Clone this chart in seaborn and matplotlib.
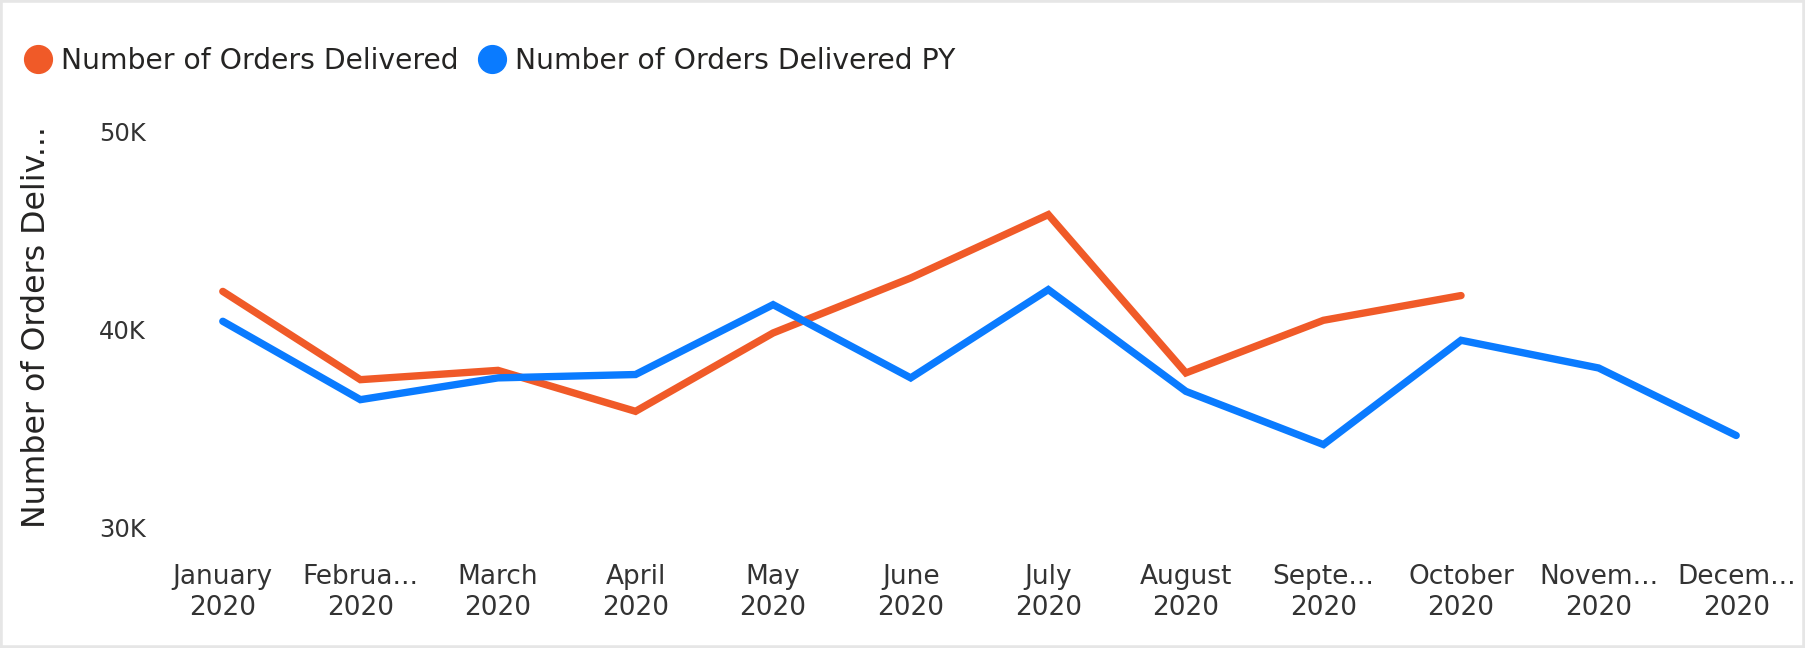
import matplotlib
matplotlib.use("Agg")
import matplotlib.pyplot as plt
import seaborn as sns
import pandas as pd
from matplotlib.lines import Line2D
from matplotlib.ticker import FuncFormatter, FixedLocator
from matplotlib.patches import Rectangle

months = ["January\n2020", "Februa...\n2020", "March\n2020", "April\n2020", "May\n2020",
          "June\n2020", "July\n2020", "August\n2020", "Septe...\n2020", "October\n2020",
          "Novem...\n2020", "Decem...\n2020"]
delivered = [41930, 37470, 37940, 35870, 39830, 42610, 45810, 37810, 40470, 41720]
delivered_py = [40420, 36460, 37560, 37730, 41260, 37560, 42020, 36880, 34190, 39460, 38060, 34650]
series_names = ["Number of Orders Delivered", "Number of Orders Delivered PY"]
colors = ["#F05A28", "#0A7BFF"]
y_ticks = [30000, 40000, 50000]

df = pd.concat([
    pd.DataFrame({"Month": months[:len(delivered)], "Value": delivered, "Series": series_names[0]}),
    pd.DataFrame({"Month": months[:len(delivered_py)], "Value": delivered_py, "Series": series_names[1]}),
], ignore_index=True)

sns.set_style("white")
plt.rcParams["font.family"] = ["DejaVu Sans"]

fig = plt.figure(figsize=(18.05, 6.48), dpi=100)
W, H = 1805, 648
left_px, right_px = 154, 1805
top_px, bottom_px = 131.7, 527.5
ax = fig.add_axes([left_px / W, 1 - bottom_px / H, (right_px - left_px) / W, (bottom_px - top_px) / H])

sns.lineplot(data=df, x="Month", y="Value", hue="Series", palette=colors, sort=False,
             linewidth=5.3, ax=ax, legend=False, solid_capstyle="round", solid_joinstyle="miter")

ax.set_xlim(-0.5, len(months) - 0.5)
ax.set_ylim(y_ticks[0], y_ticks[-1])
ax.yaxis.set_major_locator(FixedLocator(y_ticks))
ax.yaxis.set_major_formatter(FuncFormatter(lambda v, p: f"{int(v/1000)}K"))
for s in ax.spines.values():
    s.set_visible(False)
ax.grid(False)
ax.tick_params(axis="x", length=0, pad=26, labelsize=19, labelcolor="#333333")
ax.tick_params(axis="y", length=0, pad=6, labelsize=17.5, labelcolor="#333333")
for lbl in ax.get_xticklabels():
    lbl.set_linespacing(1.25)
ax.set_xlabel("")
ax.set_ylabel("")

fig.text(37 / W, 1 - 327 / H, "Number of Orders Deliv...", rotation=90, ha="center", va="center",
         fontsize=22.8, color="#252423")

handles = [Line2D([0], [0], marker="o", linestyle="none", markersize=20,
                  markerfacecolor=c, markeredgecolor=c) for c in colors]
fig.legend(handles, series_names, loc="center left", bbox_to_anchor=(23.6 / W, 1 - 61 / H),
           ncol=2, frameon=False, fontsize=20.3, handletextpad=0.31, columnspacing=0.7,
           handlelength=1.0, labelcolor="#252423", borderaxespad=0, borderpad=0)

fig.patches.append(Rectangle((0, 0), 1, 1, transform=fig.transFigure, fill=False,
                             edgecolor="#E6E6E6", linewidth=4, zorder=10))

fig.savefig("out.png", dpi=100, facecolor="white")
